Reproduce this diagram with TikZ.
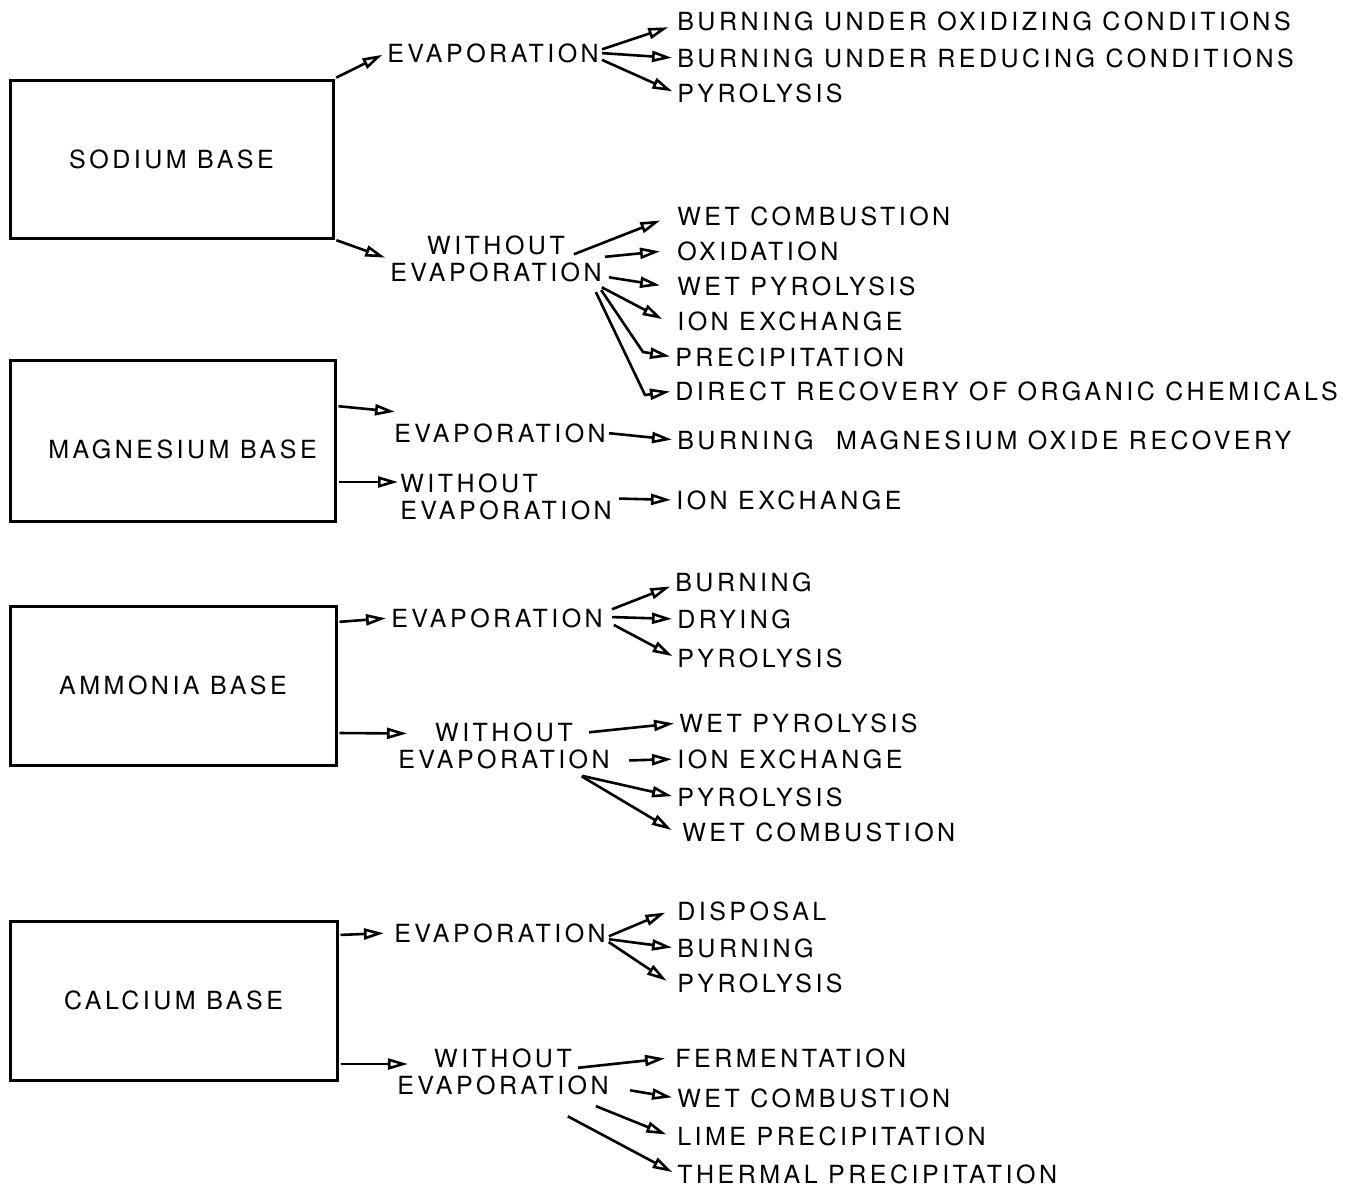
\documentclass[tikz,border=0pt]{standalone}
\usepackage{fontspec}
\setmainfont[LetterSpace=14]{TeX Gyre Heros}
\usetikzlibrary{arrows.meta}

\begin{document}
\begin{tikzpicture}[x=1pt,y=1pt,line width=2.6pt,>={Triangle[open,length=20pt,width=11pt]},
  lbl/.style={inner sep=0pt,anchor=west,font=\fontsize{25}{27}\selectfont},
  two/.style={lbl,anchor=center,align=center},
  basebox/.style={draw,line width=3pt,inner sep=0pt,font=\fontsize{25}{27}\selectfont},
  arr/.style={->,shorten >=4pt,shorten <=2pt}]
  \useasboundingbox (0,0) rectangle (1361,-1186);
  % sodium base
  \node[basebox,minimum width=323pt,minimum height=158pt] (sodium) at (171.5,-159) {SODIUM BASE};
  \node[lbl] (nev) at (386,-53) {EVAPORATION};
  \node[two] (nwo) at (496,-259) {WITHOUT\\EVAPORATION};
  \node[lbl] (n1) at (676,-21) {BURNING UNDER OXIDIZING CONDITIONS};
  \node[lbl] (n2) at (676,-58) {BURNING UNDER REDUCING CONDITIONS};
  \node[lbl] (n3) at (676,-93) {PYROLYSIS};
  \node[lbl] (n4) at (676,-216) {WET COMBUSTION};
  \node[lbl] (n5) at (676,-251) {OXIDATION};
  \node[lbl] (n6) at (676,-286) {WET PYROLYSIS};
  \node[lbl] (n7) at (676,-321) {ION EXCHANGE};
  \node[lbl] (n8) at (674,-357) {PRECIPITATION};
  \node[lbl] (n9) at (674,-391) {DIRECT RECOVERY OF ORGANIC CHEMICALS};
  \draw[arr] (sodium.north east) -- (nev.west);
  \draw[arr] (sodium.south east) -- (nwo.west);
  \draw[arr] ([yshift=3pt]nev.east) -- ([xshift=-4pt,yshift=-5pt]n1.west);
  \draw[arr] (nev.east) -- (n2.west);
  \draw[arr] ([yshift=-6pt]nev.east) -- (n3.west);
  \draw[arr] ([xshift=-31pt,yshift=4pt]nwo.east) -- ([xshift=-12pt,yshift=-3pt]n4.west);
  \draw[arr] ([yshift=2pt]nwo.east) -- ([xshift=-12pt]n5.west);
  \draw[arr] ([xshift=4pt,yshift=-18pt]nwo.east) -- ([xshift=-12pt]n6.west);
  \draw[arr] ([xshift=-3pt,yshift=-3pt]nwo.south east) -- ([xshift=-10pt]n7.west);
  \draw[arr] ([xshift=-3pt,yshift=-5pt]nwo.south east) -- ([xshift=-31pt,yshift=5pt]n8.west) -- (n8.west);
  \draw[arr] ([xshift=-8pt,yshift=-7pt]nwo.south east) -- ([xshift=-29pt,yshift=-4pt]n9.west) -- (n9.west);
  % magnesium base
  \node[basebox,minimum width=325pt,minimum height=161pt,text height=35pt,text depth=0pt] (magnesium) at (172.5,-440.5) {\hspace{20pt}MAGNESIUM BASE};
  \node[lbl] (mev) at (393,-433) {EVAPORATION};
  \node[lbl,align=left] (mwo) at (399,-496.5) {WITHOUT\\EVAPORATION};
  \node[lbl] (m1) at (676,-440) {BURNING\hspace{0.9em}MAGNESIUM OXIDE RECOVERY};
  \node[lbl] (m2) at (675,-500) {ION EXCHANGE};
  \draw[arr] ([yshift=34.5pt]magnesium.east) -- ([xshift=6pt,yshift=10pt]mev.north west);
  \draw[arr] ([yshift=-41.5pt]magnesium.east) -- ([xshift=3pt,yshift=14.5pt]mwo.west);
  \draw[arr] (mev.east) -- (m1.west);
  \draw[arr] ([xshift=4pt,yshift=-2pt]mwo.east) -- (m2.west);
  % ammonia base
  \node[basebox,minimum width=326pt,minimum height=159pt] (ammonia) at (173,-685.5) {AMMONIA BASE};
  \node[lbl] (aev) at (390,-618) {EVAPORATION};
  \node[two] (awo) at (504,-746) {WITHOUT\\EVAPORATION};
  \node[lbl] (a1) at (674,-582) {BURNING};
  \node[lbl] (a2) at (676,-619) {DRYING};
  \node[lbl] (a3) at (676,-658) {PYROLYSIS};
  \node[lbl] (a4) at (678,-723) {WET PYROLYSIS};
  \node[lbl] (a5) at (676,-759) {ION EXCHANGE};
  \node[lbl] (a6) at (676,-797) {PYROLYSIS};
  \node[lbl] (a7) at (681,-832) {WET COMBUSTION};
  \draw[arr] ([yshift=63.5pt]ammonia.east) -- (aev.west);
  \draw[arr] ([yshift=-47.5pt]ammonia.east) -- ([xshift=14pt,yshift=12.5pt]awo.west);
  \draw[arr] ([xshift=6pt,yshift=8pt]aev.east) -- ([yshift=-3pt]a1.west);
  \draw[arr] ([xshift=6pt,yshift=1pt]aev.east) -- (a2.west);
  \draw[arr] ([xshift=8pt,yshift=-6pt]aev.east) -- (a3.west);
  \draw[arr] ([xshift=-24pt,yshift=13.5pt]awo.east) -- (a4.west);
  \draw[arr] ([xshift=16pt,yshift=-14.5pt]awo.east) -- (a5.west);
  \draw[arr] ([xshift=-31pt,yshift=-5pt]awo.south east) -- (a6.west);
  \draw[arr] ([xshift=-31pt,yshift=-5pt]awo.south east) -- ([xshift=-6pt]a7.west);
  % calcium base
  \node[basebox,minimum width=327pt,minimum height=159pt] (calcium) at (173.5,-1000.5) {CALCIUM BASE};
  \node[lbl] (cev) at (393,-933) {EVAPORATION};
  \node[two] (cwo) at (503,-1072) {WITHOUT\\EVAPORATION};
  \node[lbl] (c1) at (676,-911) {DISPOSAL};
  \node[lbl] (c2) at (676,-948) {BURNING};
  \node[lbl] (c3) at (676,-983) {PYROLYSIS};
  \node[lbl] (c4) at (674,-1058) {FERMENTATION};
  \node[lbl] (c5) at (676,-1098) {WET COMBUSTION};
  \node[lbl] (c6) at (676,-1136) {LIME PRECIPITATION};
  \node[lbl] (c7) at (676,-1174) {THERMAL PRECIPITATION};
  \draw[arr] ([yshift=65.5pt]calcium.east) -- ([xshift=-5pt]cev.west);
  \draw[arr] ([yshift=-63.5pt]calcium.east) -- ([xshift=16pt,yshift=8pt]cwo.west);
  \draw[arr] ([yshift=-4pt]cev.east) -- ([xshift=-7pt]c1.west);
  \draw[arr] ([yshift=-6pt]cev.east) -- (c2.west);
  \draw[arr] ([yshift=-8pt]cev.east) -- ([xshift=-6pt]c3.west);
  \draw[arr] ([xshift=-34pt,yshift=4pt]cwo.east) -- ([xshift=-5pt]c4.west);
  \draw[arr] ([xshift=18pt,yshift=-18pt]cwo.east) -- (c5.west);
  \draw[arr] ([xshift=-16pt,yshift=-9pt]cwo.south east) -- ([xshift=-6pt]c6.west);
  \draw[arr] ([xshift=-44pt,yshift=-19pt]cwo.south east) -- (c7.west);
\end{tikzpicture}
\end{document}
